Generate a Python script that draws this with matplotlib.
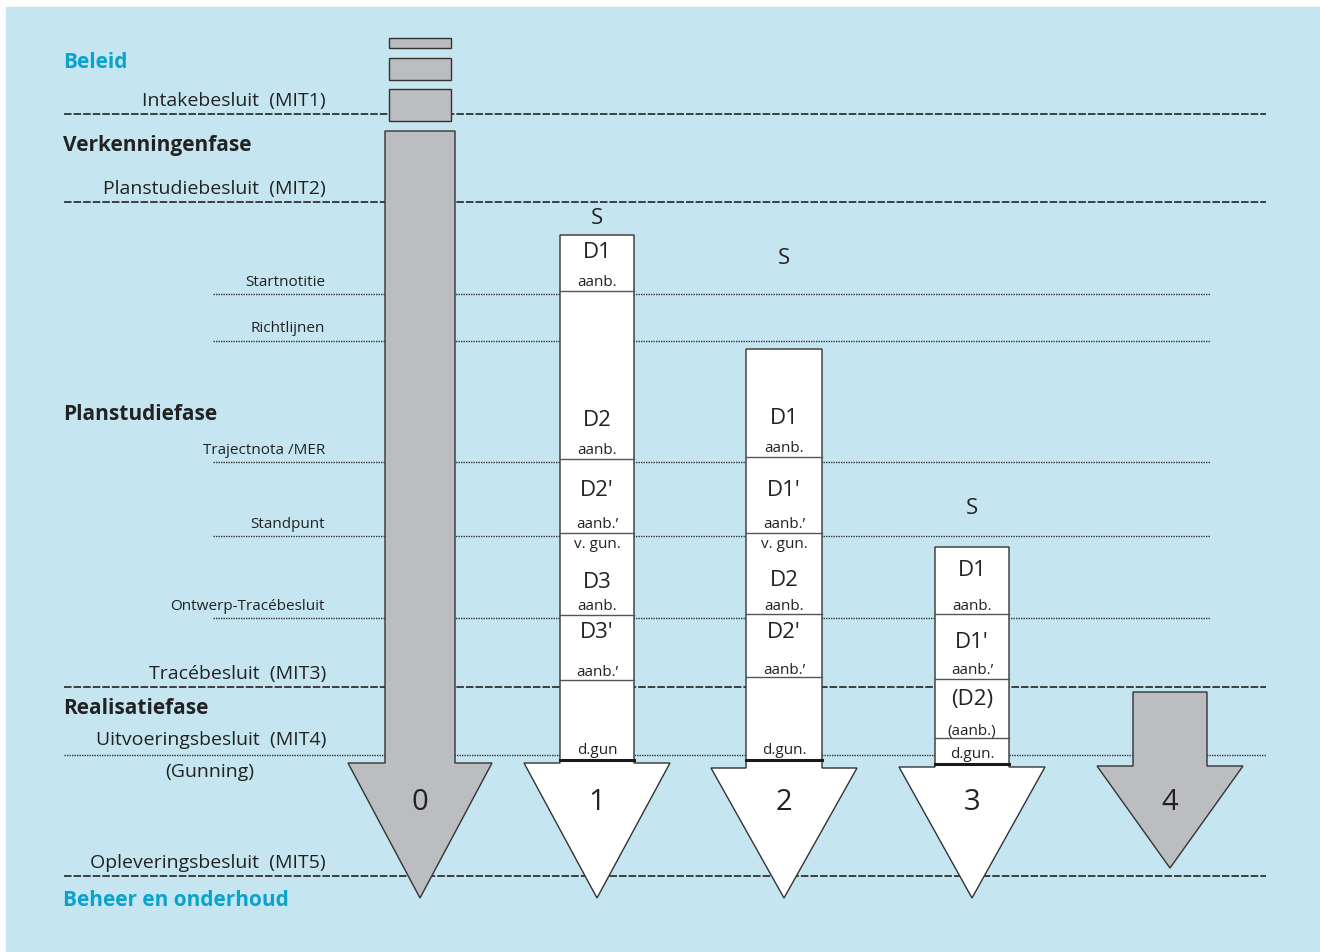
import matplotlib.pyplot as plt
from matplotlib.patches import Rectangle, Polygon

plt.rcParams['font.family'] = ['Open Sans', 'DejaVu Sans']

# --- data -------------------------------------------------------------
fases = ['Beleid', 'Verkenningenfase', 'Planstudiefase', 'Realisatiefase', 'Beheer en onderhoud']
fase_y = [60, 143, 412, 706, 898]
fase_kleur = ['#0aa3cc', '#222222', '#222222', '#222222', '#0aa3cc']

besluiten = ['Intakebesluit  (MIT1)', 'Planstudiebesluit  (MIT2)', 'Tracébesluit  (MIT3)',
             'Opleveringsbesluit  (MIT5)']
besluit_y = [114, 202, 687, 876]

mit4 = 'Uitvoeringsbesluit  (MIT4)'
mit4_y = 755
gunning = '(Gunning)'

stappen = ['Startnotitie', 'Richtlijnen', 'Trajectnota /MER', 'Standpunt', 'Ontwerp-Tracébesluit']
stap_y = [294, 341, 462, 536, 618]

# varianten (pijlen)
pijl_naam = ['0', '1', '2', '3', '4']
pijl_x = [420, 597, 784, 972, 1170]
pijl_halfbreed = [35, 37, 38, 37, 37]
pijl_top = [131, 235, 349, 547, 692]
pijl_nek = [763, 763, 768, 767, 766]
pijl_kop = [72, 73, 73, 73, 73]
pijl_punt = [898, 898, 898, 898, 868]
pijl_kleur = ['#bcbdc1', 'white', 'white', 'white', '#bcbdc1']
s_y = [None, 217, 257, 506, None]

# blokjes boven variant 0 (beleid)
beleid_blok = [(38, 48), (58, 80), (89, 121)]

# scheidingen in de witte kolommen
scheiding = {1: [291, 459, 533, 615, 680], 2: [457, 533, 614, 677], 3: [614, 679, 738]}
gun_lijn = {1: 760, 2: 760, 3: 764}

# teksten in de kolommen: (tekst, y, groot?)
kolom_tekst = {
    1: [('D1', 251, 1), ('aanb.', 281, 0), ('D2', 418, 1), ('aanb.', 449, 0),
        ("D2'", 489, 1), ('aanb.’', 523, 0), ('v. gun.', 543, 0), ('D3', 580, 1),
        ('aanb.', 605, 0), ("D3'", 631, 1), ('aanb.’', 670, 0), ('d.gun', 748, 0)],
    2: [('D1', 416, 1), ('aanb.', 447, 0), ("D1'", 489, 1), ('aanb.’', 523, 0),
        ('v. gun.', 543, 0), ('D2', 579, 1), ('aanb.', 605, 0), ("D2'", 631, 1),
        ('aanb.’', 668, 0), ('d.gun.', 748, 0)],
    3: [('D1', 569, 1), ('aanb.', 605, 0), ("D1'", 641, 1), ('aanb.’', 669, 0),
        ('(D2)', 697, 1), ('(aanb.)', 729, 0), ('d.gun.', 753, 0)],
}

# --- figuur -----------------------------------------------------------
fig = plt.figure(figsize=(13.2, 9.52), dpi=100)
ax = fig.add_axes([0, 0, 1, 1])
ax.set_xlim(0, 1320)
ax.set_ylim(952, 0)
ax.axis('off')

ax.add_patch(Rectangle((6, 7), 1320, 950, color='#c5e6f1', zorder=0))

lijnkleur = '#333333'
tekstkleur = '#222222'
dy = 2  # tekst iets omlaag (Open Sans centreert hoog)

for naam, y in zip(besluiten, besluit_y):
    ax.plot([64, 1266], [y, y], color=lijnkleur, lw=1.3, ls=(0, (4.2, 1.1)), zorder=1)
    ax.text(326, y - 15 + dy, naam, ha='right', va='center', fontsize=14, color=tekstkleur)

ax.plot([64, 1266], [mit4_y, mit4_y], color=lijnkleur, lw=1.0, ls=(0, (1, 0.8)), zorder=1)
ax.text(326, mit4_y - 17 + dy, mit4, ha='right', va='center', fontsize=14, color=tekstkleur)
ax.text(210, mit4_y + 15 + dy, gunning, ha='center', va='center', fontsize=14, color=tekstkleur)

for naam, y in zip(stappen, stap_y):
    ax.plot([213, 1210], [y, y], color=lijnkleur, lw=1.0, ls=(0, (1, 0.8)), zorder=1)
    ax.text(325, y - 14 + dy, naam, ha='right', va='center', fontsize=11, color=tekstkleur)

for naam, y, c in zip(fases, fase_y, fase_kleur):
    ax.text(63, y + dy, naam, ha='left', va='center', fontsize=15, fontweight='bold', color=c)

# blokjes beleid
for y0, y1 in beleid_blok:
    ax.add_patch(Rectangle((389, y0), 62, y1 - y0, facecolor='#bcbdc1',
                           edgecolor=lijnkleur, lw=1, zorder=3))

# pijlen
for i, naam in enumerate(pijl_naam):
    x, hb, kop = pijl_x[i], pijl_halfbreed[i], pijl_kop[i]
    punten = [(x - hb, pijl_top[i]), (x + hb, pijl_top[i]), (x + hb, pijl_nek[i]),
              (x + kop, pijl_nek[i]), (x, pijl_punt[i]), (x - kop, pijl_nek[i]),
              (x - hb, pijl_nek[i])]
    ax.add_patch(Polygon(punten, closed=True, facecolor=pijl_kleur[i],
                         edgecolor=lijnkleur, lw=1, zorder=3))
    ax.text(x, 800 + dy, naam, ha='center', va='center', fontsize=21, color=tekstkleur, zorder=4)
    if s_y[i] is not None:
        ax.text(x, s_y[i] + dy, 'S', ha='center', va='center', fontsize=16, color=tekstkleur)
    if i in scheiding:
        for y in scheiding[i]:
            ax.plot([x - hb, x + hb], [y, y], color='#555555', lw=1, zorder=4)
        ax.plot([x - hb, x + hb], [gun_lijn[i], gun_lijn[i]], color='#1a1a1a', lw=2.2, zorder=4)
        for tekst, y, groot in kolom_tekst[i]:
            ax.text(x, y + dy, tekst, ha='center', va='center', fontsize=16 if groot else 11,
                    color=tekstkleur, zorder=5)

fig.savefig('out.png', dpi=100, facecolor='white')
